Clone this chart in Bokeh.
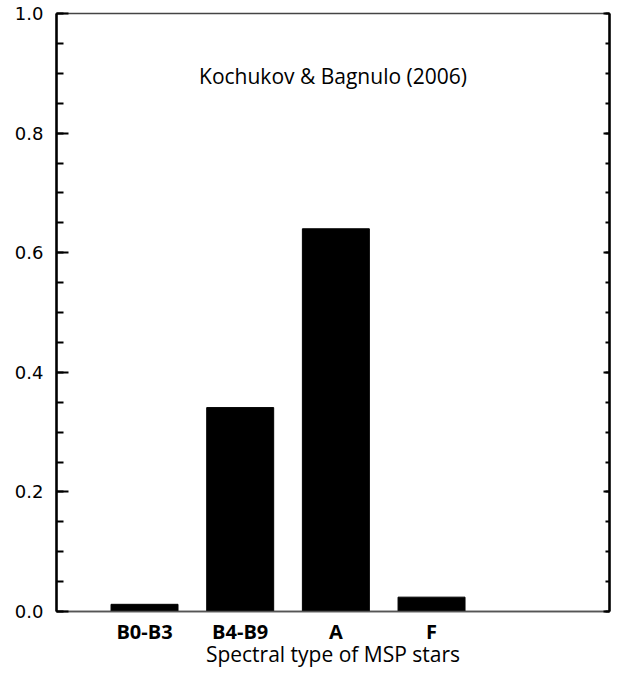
from bokeh.plotting import figure
from bokeh.models import (Range1d, LinearAxis, FixedTicker, SingleIntervalTicker,
                          PrintfTickFormatter, CustomJSTickFormatter, Label, ColumnDataSource)
from bokeh.embed import file_html
from bokeh.resources import INLINE

# ---- data ----
categories = ["B0-B3", "B4-B9", "A", "F"]
positions = [1, 2, 3, 4]
fractions = [0.012, 0.341, 0.640, 0.024]
title_text = "Kochukov & Bagnulo (2006)"
x_label = "Spectral type of MSP stars"

src = ColumnDataSource(dict(x=positions, top=fractions, cat=categories))

p = figure(width=611, height=670,
           x_range=Range1d(0.08, 5.86), y_range=Range1d(0, 1.0),
           output_backend="svg", toolbar_location=None,
           min_border_left=56, min_border_right=2,
           min_border_top=13, min_border_bottom=50,
           x_axis_location=None, y_axis_location=None)

p.grid.visible = False
p.background_fill_color = "white"
p.border_fill_color = "white"
p.outline_line_color = "#444444"
p.outline_line_width = 1.5

p.vbar(x="x", top="top", width=0.7, source=src,
       fill_color="black", line_color="black")

# left axis
yl = LinearAxis(ticker=SingleIntervalTicker(interval=0.2, num_minor_ticks=4),
                formatter=PrintfTickFormatter(format="%.1f"))
yl.axis_line_width = 2.5
yl.axis_line_color = "black"
yl.major_tick_in = 12
yl.major_tick_out = 0
yl.minor_tick_in = 7
yl.minor_tick_out = 0
yl.major_tick_line_width = 2
yl.minor_tick_line_width = 2
yl.major_label_standoff = 13
yl.major_label_text_font = "DejaVu Sans"
yl.major_label_text_font_size = "18px"
yl.major_label_text_color = "black"
p.add_layout(yl, "left")

# right axis (ticks only)
yr = LinearAxis(ticker=SingleIntervalTicker(interval=0.2, num_minor_ticks=4),
                formatter=CustomJSTickFormatter(code="return ''"))
yr.axis_line_width = 2.5
yr.axis_line_color = "black"
yr.major_tick_in = 6
yr.major_tick_out = 0
yr.minor_tick_in = 4
yr.minor_tick_out = 0
yr.major_tick_line_width = 2
yr.minor_tick_line_width = 2
yr.major_label_standoff = 0
p.add_layout(yr, "right")

# bottom axis
xb = LinearAxis(ticker=FixedTicker(ticks=positions),
                major_label_overrides={pos: c for pos, c in zip(positions, categories)})
xb.axis_line_color = "#555555"
xb.axis_line_width = 1.5
xb.major_tick_in = 0
xb.major_tick_out = 0
xb.minor_tick_line_color = None
xb.major_tick_line_color = None
xb.major_label_standoff = 6
xb.major_label_text_font = "Open Sans"
xb.major_label_text_font_style = "bold"
xb.major_label_text_font_size = "20px"
xb.major_label_text_color = "black"
xb.axis_label = x_label
xb.axis_label_text_font = "Open Sans"
xb.axis_label_text_font_style = "normal"
xb.axis_label_text_font_size = "21px"
xb.axis_label_standoff = -8
xb.axis_label_text_color = "black"
p.add_layout(xb, "below")

# in-plot title
p.add_layout(Label(x=2.97, y=0.896, text=title_text, text_align="center",
                   text_baseline="middle", text_font="Open Sans",
                   text_font_size="21px", text_color="black"))

open("out.html", "w").write(file_html(p, INLINE))
